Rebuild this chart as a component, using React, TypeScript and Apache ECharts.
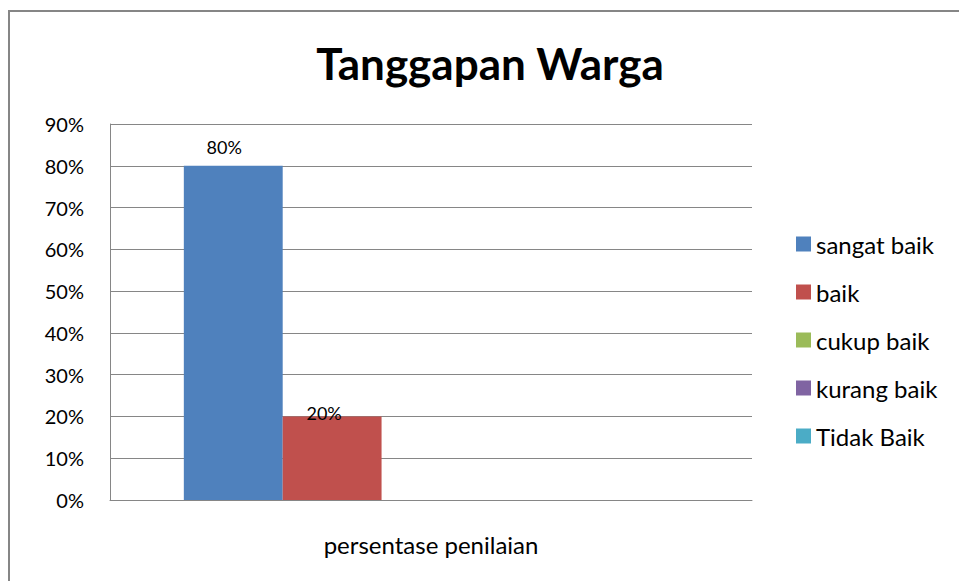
import React, { useEffect, useRef } from "react";
import * as echarts from "echarts";

const categories = ["persentase penilaian"];
const seriesNames = ["sangat baik", "baik", "cukup baik", "kurang baik", "Tidak Baik"];
const seriesValues = [80, 20, 0, 0, 0];
const seriesColors = ["#4F81BD", "#C0504D", "#9BBB59", "#8064A2", "#4BACC6"];
const yTicks = [0, 10, 20, 30, 40, 50, 60, 70, 80, 90];

const FONT = "Lato, 'Noto Sans', sans-serif";

export default function App() {
  const ref = useRef<HTMLDivElement>(null);
  useEffect(() => {
    if (!ref.current) return;
    const chart = echarts.init(ref.current, undefined, { renderer: "svg" });
    const labelOffsets: Record<number, number[]> = { 0: [-9, -10], 1: [-8, 6] };
    chart.setOption({
      animation: false,
      backgroundColor: "#ffffff",
      graphic: [
        {
          type: "rect",
          shape: { x: 9, y: 11, width: 1000, height: 700 },
          style: { fill: "none", stroke: "#868686", lineWidth: 2 },
          silent: true,
        },
        {
          type: "text",
          x: 490,
          y: 63,
          style: {
            text: "Tanggapan Warga",
            fontFamily: FONT,
            fontWeight: "bold",
            fontSize: 44,
            fill: "#000",
            textAlign: "center",
            textVerticalAlign: "middle",
          },
        },
      ],
      legend: {
        orient: "vertical",
        left: 796,
        top: 232,
        padding: 0,
        itemWidth: 15,
        itemHeight: 15,
        itemGap: 24,
        itemStyle: { borderWidth: 0 },
        icon: "rect",
        data: seriesNames,
        textStyle: { fontFamily: FONT, fontSize: 24, color: "#000", lineHeight: 24 },
      },
      grid: { left: 110, right: 207, top: 124, bottom: 81, containLabel: false },
      xAxis: {
        type: "category",
        data: categories,
        axisLine: { lineStyle: { color: "#868686", width: 1 } },
        axisTick: { show: false },
        axisLabel: { fontFamily: FONT, fontSize: 24, color: "#000", margin: 32 },
      },
      yAxis: {
        type: "value",
        min: yTicks[0],
        max: yTicks[yTicks.length - 1],
        interval: 10,
        axisLine: { show: true, lineStyle: { color: "#868686", width: 1 } },
        axisTick: { show: false },
        splitLine: { lineStyle: { color: "#868686", width: 1 } },
        axisLabel: {
          fontFamily: FONT,
          fontSize: 20,
          color: "#000",
          margin: 26,
          formatter: "{value}%",
        },
      },
      series: seriesNames.map((name, i) => ({
        name,
        type: "bar",
        barGap: "0%",
        barCategoryGap: "23%",
        itemStyle: { color: seriesColors[i] },
        data: [seriesValues[i]],
        label: {
          show: seriesValues[i] > 0,
          position: "top",
          distance: 0,
          offset: labelOffsets[i] || [0, 0],
          fontFamily: FONT,
          fontSize: 18,
          color: "#000",
          formatter: "{c}%",
        },
      })),
    });
    return () => chart.dispose();
  }, []);
  return (
    <div
      ref={ref}
      style={{ position: "fixed", left: 0, top: 0, width: 959, height: 581 }}
    />
  );
}
